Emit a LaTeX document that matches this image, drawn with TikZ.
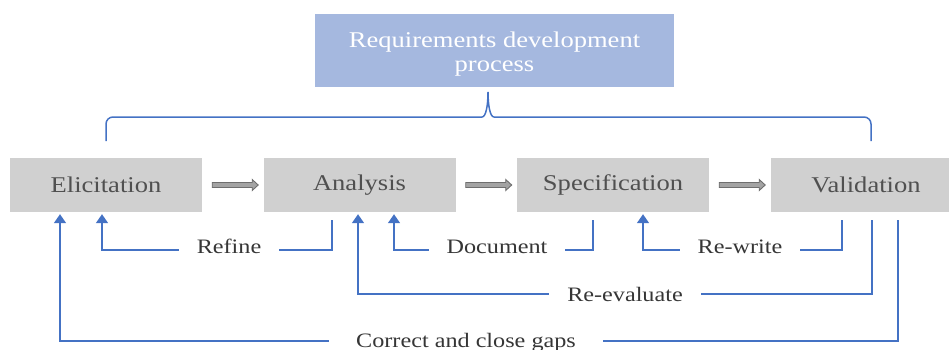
\documentclass[tikz,border=0pt]{standalone}
\usepackage{fontspec}
\setmainfont{Liberation Serif}[FakeStretch=1.18]
\usetikzlibrary{calc,arrows.meta}
\definecolor{boxgray}{HTML}{D0D0D0}
\definecolor{boxtext}{HTML}{505050}
\definecolor{headblue}{HTML}{A5B8DF}
\definecolor{linkblue}{HTML}{4472C4}
\definecolor{labeltext}{HTML}{363636}
\definecolor{arrowfill}{HTML}{A3A3A3}
\definecolor{arrowedge}{HTML}{6E6E6E}

\begin{document}
\begin{tikzpicture}[x=1pt,y=-1pt,
  phase/.style={fill=boxgray, text=boxtext, minimum width=192pt, minimum height=54pt,
    inner sep=0pt, font=\fontsize{22.5pt}{24pt}\selectfont},
  head/.style={fill=headblue, minimum width=359pt, minimum height=73pt, inner sep=0pt},
  headtext/.style={text=white, inner sep=0pt, align=center,
    font=\fontsize{22.5pt}{24pt}\selectfont},
  link/.style={draw=linkblue, line width=1.6pt},
  linkin/.style={link, -{Triangle[length=9pt,width=12pt]}},
  tag/.style={fill=white, text=labeltext, inner xsep=18pt, inner ysep=2pt,
    anchor=base, font=\fontsize{20.5pt}{22pt}\selectfont},
  block/.style={draw=arrowedge, fill=arrowfill, line width=0.9pt, line join=miter}
]
\useasboundingbox (0,0) rectangle (949,349);

% heading and the four phases
\node[head] (top) at (494.5,50.5) {};
\node[headtext] (title) at ($(top.center)+(0,3.5)$) {Requirements development\\process};
\node[phase] (E) at (106,185) {Elicitation};
\node[phase] (A) at (359.5,185) {Analysis};
\node[phase] (S) at (613,185) {Specification};
\node[phase, minimum width=190pt] (V) at (866,185) {Validation};

% brace grouping the phases under the heading
\draw[link, line width=1.5pt, rounded corners=7pt] (106,141) -- (106,117) -- (482,117);
\draw[link, line width=1.5pt] (482,117) .. controls (486,117) and (488,105) .. (488,92)
  .. controls (488,105) and (490,117) .. (494,117);
\draw[link, line width=1.5pt, rounded corners=7pt] (494,117) -- (871,117) -- (871,141);

% forward block arrows between phases
\foreach \p/\q in {E/A,A/S,S/V}
  \draw[block] ($(\p.east)+(10,-2.5)$) -- ++(40,0) -- ++(0,-3) -- ++(6,5.5)
    -- ++(-6,5.5) -- ++(0,-3) -- ++(-40,0) -- cycle;

% feedback loops
\draw[linkin] ($(A.south)+(-27.5,8)$) |- ($(E.south)+(-4,38)$) -- ($(E.south)+(-4,2)$);
\draw[linkin] ($(S.south)+(-20,8)$) |- ($(A.south)+(34.5,38)$) -- ($(A.south)+(34.5,2)$);
\draw[linkin] ($(V.south)+(-24,8)$) |- ($(S.south)+(30,38)$) -- ($(S.south)+(30,2)$);
\draw[linkin] ($(V.south)+(6,8)$) |- ($(A.south)+(-1.5,82)$) -- ($(A.south)+(-1.5,2)$);
\draw[linkin] ($(V.south)+(32,8)$) |- ($(E.south)+(-46,129)$) -- ($(E.south)+(-46,2)$);

% loop labels
\node[tag] (refine) at (229,253) {Refine};
\node[tag] (document) at (497,253) {Document};
\node[tag] (rewrite) at (740,253) {Re-write};
\node[tag] (reeval) at (625,301) {Re-evaluate};
\node[tag, inner xsep=27pt] (correct) at (466,347) {Correct and close gaps};
\end{tikzpicture}
\end{document}
